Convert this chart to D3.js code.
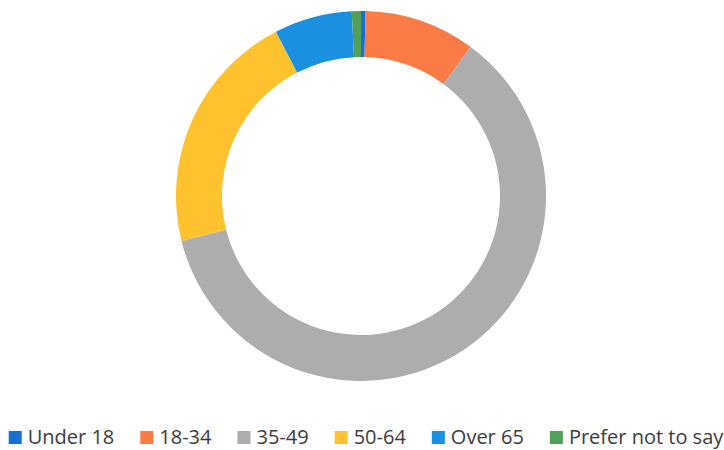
<!DOCTYPE html>
<html>
<head>
<meta charset="utf-8">
<script src="https://cdn.jsdelivr.net/npm/d3@7"></script>
<style>
  body { margin: 0; background: #fff; }
  svg { display: block; }
</style>
</head>
<body>
<svg id="chart"></svg>
<script>
// Data (share of respondents, %)
const categories = ['Under 18', '18-34', '35-49', '50-64', 'Over 65', 'Prefer not to say'];
const values = [0.4, 9.7, 61.0, 21.3, 6.8, 0.8];
const colors = ['#1670d2', '#fb7b46', '#adadad', '#fdc22e', '#1b8fe0', '#52a05a'];

const width = 724, height = 450;
const cx = 361, cy = 196;
const outerR = 185, innerR = 139;

const svg = d3.select('#chart')
    .attr('width', width)
    .attr('height', height);

const data = categories.map((c, i) => ({name: c, value: values[i], color: colors[i]}));

const pie = d3.pie()
    .value(d => d.value)
    .sort(null);

const arc = d3.arc()
    .innerRadius(innerR)
    .outerRadius(outerR);

const chart = svg.append('g')
    .attr('transform', `translate(${cx},${cy})`);

chart.selectAll('.slice')
    .data(pie(data))
  .join('path')
    .attr('class', 'slice')
    .attr('d', arc)
    .attr('fill', d => d.data.color);

// Legend, laid out in one row and centred
const legend = svg.append('g').attr('class', 'legend');
const sq = 13, gapText = 6, gapItem = 26;

const items = legend.selectAll('.item')
    .data(data)
  .join('g')
    .attr('class', 'item');

items.append('rect')
    .attr('width', sq)
    .attr('height', sq)
    .attr('y', -sq)
    .attr('fill', d => d.color);

items.append('text')
    .attr('x', sq + gapText)
    .attr('y', 0)
    .attr('font-family', '"Open Sans", sans-serif')
    .attr('font-size', 20)
    .attr('fill', '#3c3c3c')
    .text(d => d.name);

let x = 0;
const offsets = [];
items.each(function() {
  offsets.push(x);
  const w = sq + gapText + d3.select(this).select('text').node().getComputedTextLength();
  x += w + gapItem;
});
const total = x - gapItem;
const startX = 366 - total / 2;

items.attr('transform', (d, i) => `translate(${startX + offsets[i]},444)`);
</script>
</body>
</html>
